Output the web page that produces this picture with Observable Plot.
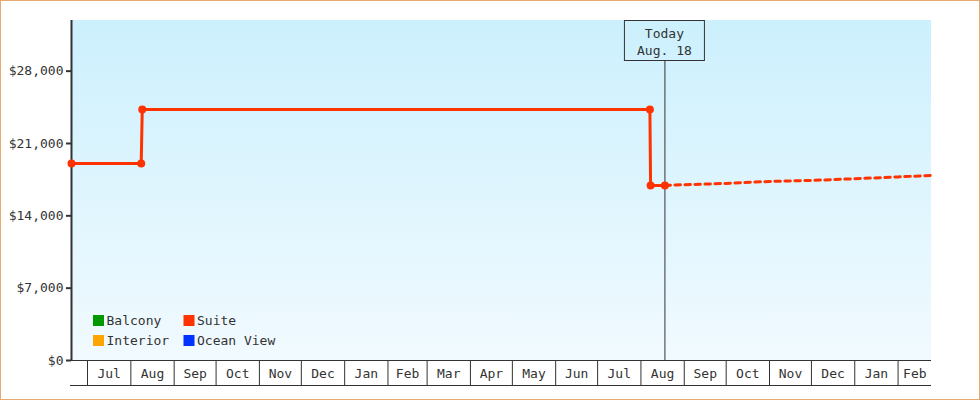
<!DOCTYPE html>
<html><head><meta charset="utf-8">
<script src="https://cdn.jsdelivr.net/npm/d3@7"></script>
<script src="https://cdn.jsdelivr.net/npm/@observablehq/plot@0.6"></script>
<style>
body{margin:0;background:#fff;}
#chart svg{display:block;outline:1px solid #e8aa6e;outline-offset:-1px;}
</style>
</head><body><div id="chart"></div>
<script>
// ---- data ----
const xDomain = ["2017-06-19T13:00Z", "2019-02-24T22:00Z"];
const today = "2018-08-18T04:00Z";
const todayLabel = ["Today", "Aug. 18"];

const suiteDates  = ["2017-06-19T13:00Z","2017-08-08T10:00Z","2017-08-09T04:00Z","2018-08-07T10:00Z","2018-08-07T22:00Z","2018-08-18T04:00Z"];
const suitePrices = [19070, 19070, 24300, 24300, 16940, 16940];

const forecastDates  = ["2018-08-18T04:00Z","2018-09-01","2018-10-01","2018-11-01","2018-12-01","2019-01-01","2019-02-01","2019-02-24T22:00Z"];
const forecastPrices = [16940, 17009, 17135, 17328, 17425, 17590, 17764, 17909];

const yTicks = [0, 7000, 14000, 21000, 28000];
const yMax = 32900;

const monthStarts = ["2017-07-01","2017-08-01","2017-09-01","2017-10-01","2017-11-01","2017-12-01","2018-01-01","2018-02-01","2018-03-01","2018-04-01","2018-05-01","2018-06-01","2018-07-01","2018-08-01","2018-09-01","2018-10-01","2018-11-01","2018-12-01","2019-01-01","2019-02-01"];
const monthLabels = ["Jul","Aug","Sep","Oct","Nov","Dec","Jan","Feb","Mar","Apr","May","Jun","Jul","Aug","Sep","Oct","Nov","Dec","Jan","Feb"];

const legendLabels = ["Balcony","Interior","Suite","Ocean View"];
const legendColors = ["#009a00","#ffa500","#ff3300","#0033ff"];

// ---- derived tables ----
const toDate = s => new Date(s);
const x0 = toDate(xDomain[0]), x1 = toDate(xDomain[1]);
const suite = suiteDates.map((d, i) => ({date: toDate(d), price: suitePrices[i]}));
const forecast = forecastDates.map((d, i) => ({date: toDate(d), price: forecastPrices[i]}));
const months = monthStarts.map((d, i) => {
  const s = toDate(d);
  const e = i + 1 < monthStarts.length ? toDate(monthStarts[i + 1]) : x1;
  const end = e > x1 ? x1 : e;
  return {start: s, mid: new Date((+s + +end) / 2), label: monthLabels[i]};
});
const SUITE = "#ff3300", INK = "#333";

const background = (index, scales, values, dim) => {
  const g = d3.create("svg:g");
  const id = "bggrad";
  const grad = g.append("defs").append("linearGradient").attr("id", id)
    .attr("x1", 0).attr("y1", 0).attr("x2", 0).attr("y2", 1);
  grad.append("stop").attr("offset", "0%").attr("stop-color", "#ccf0fd");
  grad.append("stop").attr("offset", "100%").attr("stop-color", "#f1faff");
  g.append("rect")
    .attr("x", dim.marginLeft).attr("y", dim.marginTop)
    .attr("width", dim.width - dim.marginLeft - dim.marginRight)
    .attr("height", dim.height - dim.marginTop - dim.marginBottom)
    .attr("fill", `url(#${id})`);
  return g.node();
};

const bandBottom = (index, scales, values, dim) => {
  const y = dim.height - dim.marginBottom + 25;
  return d3.create("svg:line")
    .attr("x1", dim.marginLeft - 1).attr("x2", dim.width - dim.marginRight)
    .attr("y1", y + 0.5).attr("y2", y + 0.5)
    .attr("stroke", INK).node();
};

const todayBox = (index, scales, values, dim) => {
  const cx = scales.x(toDate(today));
  const g = d3.create("svg:g");
  g.append("rect").attr("x", cx - 40).attr("y", dim.marginTop + 0.5)
    .attr("width", 80).attr("height", 40)
    .attr("fill", "none").attr("stroke", INK);
  todayLabel.forEach((t, i) => {
    g.append("text").attr("x", cx).attr("y", dim.marginTop + 13 + i * 17)
      .attr("text-anchor", "middle").attr("dominant-baseline", "central")
      .attr("fill", INK).attr("font-size", 13).text(t);
  });
  return g.node();
};

const legend = (index, scales, values, dim) => {
  const g = d3.create("svg:g").attr("text-anchor", "start");
  const baseY = dim.height - dim.marginBottom - 45;
  legendLabels.forEach((lab, i) => {
    const col = Math.floor(i / 2), row = i % 2;
    const sx = dim.marginLeft + 22 + col * 90.5;
    const sy = baseY + row * 20;
    g.append("rect").attr("x", sx).attr("y", sy).attr("width", 11).attr("height", 11)
      .attr("fill", legendColors[i]);
    g.append("text").attr("x", sx + 13.5).attr("y", sy + 5.5)
      .attr("text-anchor", "start")
      .attr("dominant-baseline", "central").attr("fill", INK)
      .attr("font-size", 13).text(lab);
  });
  return g.node();
};

const chart = Plot.plot({
  width: 980,
  height: 400,
  marginLeft: 71,
  marginRight: 49,
  marginTop: 20,
  marginBottom: 40,
  style: {fontFamily: "'DejaVu Sans Mono', monospace", fontSize: "13px", color: INK, background: "transparent"},
  x: {type: "utc", domain: [x0, x1], axis: null},
  y: {domain: [0, yMax], axis: null},
  marks: [
    background,
    Plot.axisY({ticks: yTicks, tickFormat: d => "$" + d3.format(",")(d), tickSize: 5, tickPadding: 3, strokeWidth: 2, stroke: INK, fill: INK, fontSize: 13, label: null}),
    Plot.axisX({ticks: monthStarts.map(toDate), tickSize: 25, tickFormat: () => "", stroke: INK, label: null}),
    Plot.ruleY([0], {stroke: INK}),
    bandBottom,
    Plot.text(months, {x: "mid", text: "label", frameAnchor: "bottom", dy: 13, lineAnchor: "middle", fill: INK, fontSize: 13}),
    Plot.ruleX([x0], {stroke: INK, strokeWidth: 2}),
    Plot.ruleX([toDate(today)], {stroke: INK, insetTop: 40}),
    todayBox,
    Plot.line(forecast, {x: "date", y: "price", stroke: SUITE, strokeWidth: 3, strokeDasharray: "5.5,4.5"}),
    Plot.line(suite, {x: "date", y: "price", stroke: SUITE, strokeWidth: 3}),
    Plot.dot(suite, {x: "date", y: "price", r: 4, fill: SUITE}),
    legend
  ]
});
document.getElementById("chart").append(chart);
</script>
</body></html>
